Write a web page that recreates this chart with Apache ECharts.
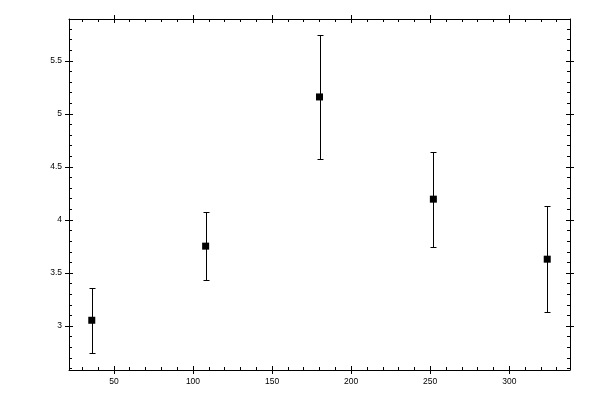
<!DOCTYPE html>
<html>
<head>
<meta charset="utf-8">
<script src="https://cdn.jsdelivr.net/npm/echarts@6/dist/echarts.min.js"></script>
<style>html,body{margin:0;padding:0;background:#fff}#c{width:600px;height:400px}</style>
</head>
<body>
<div id="c"></div>
<script>
const xValues = [36, 108, 180, 252, 324];
const yMeans = [3.054, 3.753, 5.160, 4.196, 3.630];
const yLows = [2.742, 3.432, 4.574, 3.743, 3.129];
const yHighs = [3.362, 4.074, 5.744, 4.640, 4.127];
const xTicks = [50, 100, 150, 200, 250, 300];
const yTicks = [3, 3.5, 4, 4.5, 5, 5.5];
const xMinorTicks = [30, 40, 60, 70, 80, 90, 110, 120, 130, 140, 160, 170, 180, 190, 210, 220, 230, 240, 260, 270, 280, 290, 310, 320, 330];
const yMinorTicks = [2.6, 2.7, 2.8, 2.9, 3.1, 3.2, 3.3, 3.4, 3.6, 3.7, 3.8, 3.9, 4.1, 4.2, 4.3, 4.4, 4.6, 4.7, 4.8, 4.9, 5.1, 5.2, 5.3, 5.4, 5.6, 5.7, 5.8];
const xMin = 21.6, xMax = 338.4, yMin = 2.585, yMax = 5.895;

const chart = echarts.init(document.getElementById('c'), null, {renderer: 'canvas'});
const black = '#000';
const labelFont = {color: black, fontSize: 8.5, fontFamily: 'Liberation Sans'};

function makeAxis(kind, position, opts) {
  const vals = kind === 'x' ? (opts.minor ? xMinorTicks : xTicks) : (opts.minor ? yMinorTicks : yTicks);
  return {
    type: 'value', gridIndex: 0, position: position,
    min: kind === 'x' ? xMin : yMin, max: kind === 'x' ? xMax : yMax,
    axisLine: {show: !!opts.line, onZero: false, lineStyle: {color: black, width: 1}},
    axisTick: {show: true, inside: !opts.outside, length: opts.len, customValues: vals, lineStyle: {color: black, width: 1}},
    axisLabel: opts.labels ? Object.assign({show: true, margin: 7, customValues: vals}, labelFont) : {show: false},
    splitLine: {show: false},
    minorTick: {show: false}
  };
}

const xAxes = [
  makeAxis('x', 'bottom', {line: true, labels: true, len: 4}),
  makeAxis('x', 'bottom', {outside: true, len: 4}),
  makeAxis('x', 'bottom', {minor: true, len: 3}),
  makeAxis('x', 'top', {line: true, len: 4}),
  makeAxis('x', 'top', {outside: true, len: 4}),
  makeAxis('x', 'top', {minor: true, len: 3})
];
const yAxes = [
  makeAxis('y', 'left', {line: true, labels: true, len: 4}),
  makeAxis('y', 'left', {outside: true, len: 4}),
  makeAxis('y', 'left', {minor: true, len: 3}),
  makeAxis('y', 'right', {line: true, len: 4}),
  makeAxis('y', 'right', {outside: true, len: 4}),
  makeAxis('y', 'right', {minor: true, len: 3})
];

const errData = xValues.map((x, i) => [x, yLows[i], yHighs[i]]);
const pointData = xValues.map((x, i) => [x, yMeans[i]]);

chart.setOption({
  animation: false,
  backgroundColor: '#fff',
  grid: {left: 69, top: 19, width: 501, height: 351, containLabel: false},
  xAxis: xAxes,
  yAxis: yAxes,
  series: [
    {
      type: 'custom', xAxisIndex: 0, yAxisIndex: 0, data: errData,
      renderItem: function (params, api) {
        const x = api.value(0);
        const lo = api.coord([x, api.value(1)]);
        const hi = api.coord([x, api.value(2)]);
        const px = Math.round(lo[0]) + 0.5;
        const ly = Math.round(lo[1]) + 0.5;
        const hy = Math.round(hi[1]) + 0.5;
        const cw = 3;
        const style = {stroke: black, lineWidth: 1, fill: null};
        return {type: 'group', children: [
          {type: 'line', shape: {x1: px, y1: ly, x2: px, y2: hy}, style: style},
          {type: 'line', shape: {x1: px - cw, y1: ly, x2: px + cw, y2: ly}, style: style},
          {type: 'line', shape: {x1: px - cw, y1: hy, x2: px + cw, y2: hy}, style: style}
        ]};
      }
    },
    {
      type: 'scatter', xAxisIndex: 0, yAxisIndex: 0, data: pointData,
      symbol: 'rect', symbolSize: 7,
      itemStyle: {color: black, opacity: 1}
    }
  ]
});
</script>
</body>
</html>
